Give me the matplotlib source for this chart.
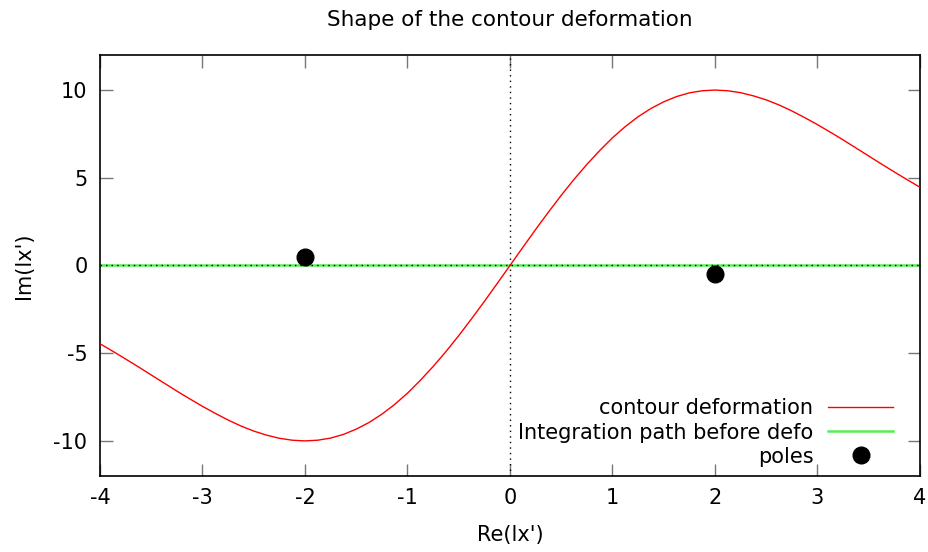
import matplotlib
matplotlib.use('Agg')
import matplotlib.pyplot as plt

# contour deformation (odd curve, peak 10 at x=2)
x_right = [0.0, 0.125, 0.25, 0.375, 0.5, 0.625, 0.75, 0.875, 1.0,
           1.125, 1.25, 1.375, 1.5, 1.625, 1.75, 1.875, 2.0,
           2.125, 2.25, 2.375, 2.5, 2.625, 2.75, 2.875, 3.0,
           3.125, 3.25, 3.375, 3.5, 3.625, 3.75, 3.875, 4.0]
y_right = [0.0, 1.03, 2.05, 3.04, 4.00, 4.91, 5.76, 6.55, 7.28,
           7.92, 8.48, 8.95, 9.33, 9.63, 9.84, 9.96, 10.0,
           9.96, 9.85, 9.67, 9.44, 9.15, 8.81, 8.43, 8.03,
           7.60, 7.16, 6.70, 6.24, 5.78, 5.33, 4.89, 4.46]
# the left half is the mirror image (odd function)
x_contour = [-v for v in x_right[:0:-1]] + x_right
y_contour = [-v for v in y_right[:0:-1]] + y_right

# integration path before deformation (real axis)
x_path = [-4.0, 4.0]
y_path = [0.0, 0.0]

# poles
x_poles = [-2.0, 2.0]
y_poles = [0.5, -0.5]

plt.rcParams['font.family'] = ['DejaVu Sans']
plt.rcParams['axes.unicode_minus'] = False

fig = plt.figure(figsize=(9.29, 5.52), dpi=100)
ax = fig.add_axes([0.1076, 0.1377, 0.8827, 0.7627])

ax.plot(x_path, y_path, color='#55ee55', lw=1.8, label='Integration path before defo', zorder=2)
ax.axhline(0, color='black', lw=1, ls=(0, (1, 3)), zorder=3)
ax.axvline(0, color='black', lw=1, ls=(0, (1, 3)), zorder=3)
ax.plot(x_contour, y_contour, color='#ff0000', lw=1, label='contour deformation', zorder=4)
ax.plot(x_poles, y_poles, 'o', color='black', ms=12, label='poles', zorder=5)

ax.set_xlim(-4, 4)
ax.set_ylim(-12, 12)
ax.set_xticks([-4, -3, -2, -1, 0, 1, 2, 3, 4])
ax.set_yticks([-10, -5, 0, 5, 10])
ax.tick_params(direction='in', length=9, width=1, color='#777777',
               top=True, right=True, labelsize=15, pad=9)
for s in ax.spines.values():
    s.set_linewidth(1.2)

ax.set_xlabel("Re(lx')", fontsize=15, labelpad=12)
ax.set_ylabel("Im(lx')", fontsize=15, labelpad=14)
ax.set_title('Shape of the contour deformation', fontsize=15.5, pad=21)

h, l = ax.get_legend_handles_labels()
order = [1, 0, 2]
ax.legend([h[i] for i in order], [l[i] for i in order], loc='lower right',
          bbox_to_anchor=(0.967, 0.022), frameon=False, markerfirst=False,
          fontsize=15, handlelength=3.1, labelspacing=0.2, borderpad=0,
          borderaxespad=0, handletextpad=0.72)

fig.savefig('out.png', dpi=100)
